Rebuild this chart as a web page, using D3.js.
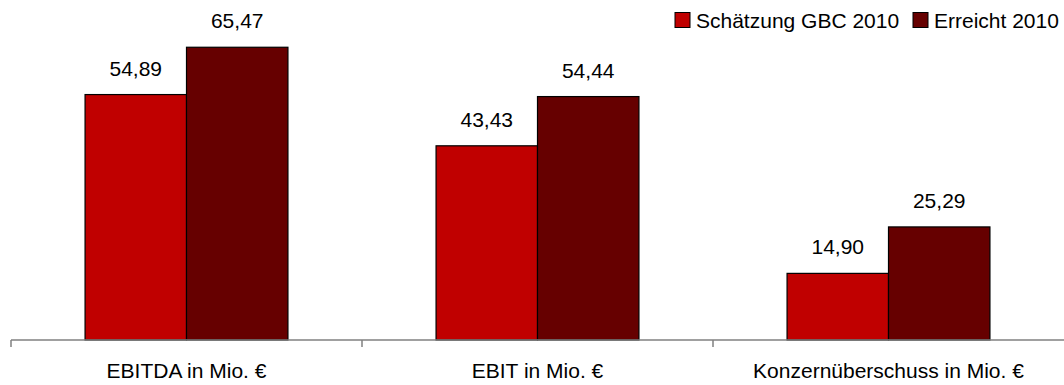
<!DOCTYPE html>
<html>
<head>
<meta charset="utf-8">
<script src="https://cdn.jsdelivr.net/npm/d3@7"></script>
<style>
  html, body { margin: 0; padding: 0; background: #fff; }
  svg { display: block; font-family: "Liberation Sans", Arial, sans-serif; }
</style>
</head>
<body>
<svg id="chart" width="1064" height="385"></svg>
<script>
// Kennzahlen 2010: Schätzung vs. erreichte Werte (in Mio. €)
const categories = ["EBITDA in Mio. €", "EBIT in Mio. €", "Konzernüberschuss in Mio. €"];
const seriesNames = ["Schätzung GBC 2010", "Erreicht 2010"];
const schaetzung = [54.89, 43.43, 14.90];
const erreicht = [65.47, 54.44, 25.29];
const colors = ["#C00000", "#660000"];

const svg = d3.select("#chart");
const width = 1064, height = 385;
const margin = { left: 11, right: 0, top: 27, bottom: 45 };
const baseY = height - margin.bottom; // 340

const rows = categories.map((c, i) => ({ cat: c, values: [schaetzung[i], erreicht[i]] }));

const x = d3.scaleBand().domain(categories).range([margin.left, width]).paddingInner(0).paddingOuter(0);
const xs = d3.scaleBand().domain(seriesNames)
  .range([x.bandwidth() * 0.211, x.bandwidth() * 0.789]).paddingInner(0).paddingOuter(0);
const y = d3.scaleLinear().domain([0, 70]).range([baseY, margin.top]);

const fmt = v => d3.format(".2f")(v).replace(".", ",");

// Balken
const groups = svg.append("g").selectAll("g").data(rows).join("g")
  .attr("transform", d => `translate(${x(d.cat)},0)`);

groups.selectAll("rect")
  .data(d => d.values.map((v, k) => ({ name: seriesNames[k], v, k })))
  .join("rect")
  .attr("x", d => xs(d.name))
  .attr("y", d => y(d.v))
  .attr("width", xs.bandwidth())
  .attr("height", d => baseY - y(d.v))
  .attr("fill", d => colors[d.k])
  .attr("stroke", "#000")
  .attr("stroke-width", 1.2);

// Wertbeschriftungen
groups.selectAll("text.val")
  .data(d => d.values.map((v, k) => ({ name: seriesNames[k], v, k })))
  .join("text")
  .attr("class", "val")
  .attr("x", d => xs(d.name) + xs.bandwidth() / 2)
  .attr("y", d => y(d.v) - 19)
  .attr("text-anchor", "middle")
  .attr("font-size", 21)
  .attr("fill", "#000")
  .text(d => fmt(d.v));

// x-Achse mit Trennstrichen zwischen den Kategorien
const axis = svg.append("g").attr("transform", `translate(0,${baseY})`);
axis.append("line")
  .attr("x1", margin.left).attr("x2", width)
  .attr("stroke", "#808080").attr("stroke-width", 1.5);
const boundaries = categories.map(c => x(c));
axis.selectAll("line.tick").data(boundaries).join("line")
  .attr("class", "tick")
  .attr("x1", d => d).attr("x2", d => d)
  .attr("y1", 0).attr("y2", 7)
  .attr("stroke", "#808080").attr("stroke-width", 1.5);
axis.selectAll("text").data(categories).join("text")
  .attr("x", d => x(d) + x.bandwidth() / 2)
  .attr("y", 38)
  .attr("text-anchor", "middle")
  .attr("font-size", 21)
  .attr("fill", "#000")
  .text(d => d);

// Legende
const legend = svg.append("g");
const itemStarts = [675, 913];
seriesNames.forEach((name, k) => {
  const g = legend.append("g").attr("transform", `translate(${itemStarts[k]},12.5)`);
  g.append("rect").attr("width", 15).attr("height", 15)
    .attr("fill", colors[k]).attr("stroke", "#000").attr("stroke-width", 1);
  g.append("text").attr("x", 21).attr("y", 15)
    .attr("font-size", 21).attr("fill", "#000").text(name);
});
</script>
</body>
</html>
